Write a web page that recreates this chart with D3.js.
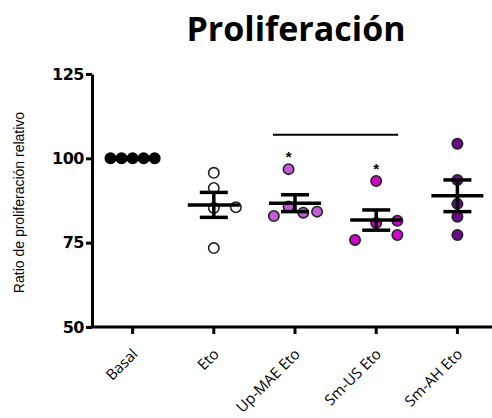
<!DOCTYPE html>
<html>
<head>
<meta charset="utf-8">
<script src="https://cdn.jsdelivr.net/npm/d3@7"></script>
<style>
  body { margin: 0; background: #fff; }
  svg { display: block; }
</style>
</head>
<body>
<div id="chart"></div>
<script>
// Groups and their colours
const groups = ['Basal', 'Eto', 'Up-MAE Eto', 'Sm-US Eto', 'Sm-AH Eto'];
const fills = ['#000000', '#ffffff', '#c25cd9', '#cc05cc', '#6e0a8c'];

// Individual replicate values per group
const basal = [100, 100, 100, 100, 100];
const eto = [95.7, 91.2, 85.3, 85.5, 73.4];
const upMae = [96.8, 85.7, 82.9, 83.9, 84.2];
const smUs = [93.3, 80.8, 81.5, 77.3, 75.8];
const smAh = [104.3, 93.6, 86.5, 82.7, 77.3];

// horizontal spread of points (in marker widths), as in the original scatter
const spread = [
    [-2.4, -1.2, 0, 1.2, 2.4],
    [0, 0, 0, 2.4, 0],
    [-0.7, -0.7, -2.3, 0.9, 2.4],
    [0, 0, 2.3, 2.3, -2.3],
    [0, 0, 0, 0, 0]
];

// mean and SEM
const means = [100, 86.2, 86.7, 81.7, 88.9];
const sems = [0, 3.7, 2.5, 3.0, 4.7];

const yTicks = [50, 75, 100, 125];
const sigBar = {from: 'Up-MAE Eto', to: 'Sm-US Eto', value: 107};
const starred = ['Up-MAE Eto', 'Sm-US Eto'];

const values = [basal, eto, upMae, smUs, smAh];

const W = 492, H = 418;
const margin = {top: 74, right: 0, bottom: 91, left: 92};
const unit = 9.2;

const svg = d3.select('#chart').append('svg')
    .attr('width', W)
    .attr('height', H);

const x = d3.scaleBand()
    .domain(groups)
    .range([margin.left, 498]);

const y = d3.scaleLinear()
    .domain([50, 125])
    .range([H - margin.bottom, margin.top]);

const cx = g => x(g) + x.bandwidth() / 2;

// Title
svg.append('text')
    .attr('x', 296)
    .attr('y', 41)
    .attr('text-anchor', 'middle')
    .style('font-family', '"Open Sans", sans-serif')
    .style('font-weight', 'bold')
    .style('font-size', '34px')
    .text('Proliferación');

// Y axis
const yAxis = svg.append('g')
    .attr('transform', `translate(${margin.left},0)`)
    .call(d3.axisLeft(y).tickValues(yTicks).tickSize(6).tickSizeOuter(0).tickPadding(2));
yAxis.select('.domain').attr('stroke', '#000').attr('stroke-width', 3);
yAxis.selectAll('.tick line').attr('stroke', '#000').attr('stroke-width', 3);
yAxis.selectAll('.tick text')
    .style('font-family', '"DejaVu Sans", sans-serif')
    .style('font-weight', 'bold')
    .style('font-size', '16px')
    .style('letter-spacing', '-0.5px')
    .attr('fill', '#000');

// X axis
const xAxis = svg.append('g')
    .attr('transform', `translate(0,${y(50)})`)
    .call(d3.axisBottom(x).tickSize(7).tickSizeOuter(0).tickFormat(() => ''));
xAxis.select('.domain').attr('stroke', '#000').attr('stroke-width', 3)
    .attr('d', `M${margin.left - 1.5},0H${W}`);
xAxis.selectAll('.tick line').attr('stroke', '#000').attr('stroke-width', 3);
xAxis.selectAll('.tick text').remove();

// category labels at -45 degrees, ending just right of each tick
svg.append('g').selectAll('text')
    .data(groups)
    .join('text')
    .attr('transform', d => `translate(${cx(d) + 6},${y(50) + 28}) rotate(-45)`)
    .attr('text-anchor', 'end')
    .style('font-family', '"Open Sans", sans-serif')
    .style('font-size', '15px')
    .text(d => d);

// Y label
svg.append('text')
    .attr('transform', `translate(24,${(y(50) + y(125)) / 2 + 2}) rotate(-90)`)
    .attr('text-anchor', 'middle')
    .style('font-family', '"Liberation Sans", Arial, sans-serif')
    .style('font-size', '14px')
    .text('Ratio de proliferación relativo');

// Points
const pts = [];
groups.forEach((g, i) => {
    values[i].forEach((v, j) => {
        pts.push({group: g, value: v, off: spread[i][j], fill: fills[i]});
    });
});

svg.append('g').selectAll('circle')
    .data(pts)
    .join('circle')
    .attr('cx', d => cx(d.group) + d.off * unit)
    .attr('cy', d => y(d.value))
    .attr('r', 5.2)
    .attr('fill', d => d.fill)
    .attr('stroke', d => d.fill === '#000000' ? '#000' : '#222')
    .attr('stroke-width', 1.6);

// Mean +/- SEM
const stats = svg.append('g');
groups.forEach((g, i) => {
    if (sems[i] === 0) return;
    const c = cx(g);
    stats.append('line')
        .attr('x1', c - 26).attr('x2', c + 26)
        .attr('y1', y(means[i])).attr('y2', y(means[i]))
        .attr('stroke', '#000').attr('stroke-width', 3.5);
    stats.append('line')
        .attr('x1', c).attr('x2', c)
        .attr('y1', y(means[i] - sems[i])).attr('y2', y(means[i] + sems[i]))
        .attr('stroke', '#000').attr('stroke-width', 3.5);
    [means[i] - sems[i], means[i] + sems[i]].forEach(v => {
        stats.append('line')
            .attr('x1', c - 14).attr('x2', c + 14)
            .attr('y1', y(v)).attr('y2', y(v))
            .attr('stroke', '#000').attr('stroke-width', 3.5);
    });
});

// Significance bar and stars
svg.append('line')
    .attr('x1', cx(sigBar.from) - 22).attr('x2', cx(sigBar.to) + 22)
    .attr('y1', y(sigBar.value)).attr('y2', y(sigBar.value))
    .attr('stroke', '#000').attr('stroke-width', 2);

starred.forEach(g => {
    const i = groups.indexOf(g);
    const top = d3.max(values[i]);
    const j = values[i].indexOf(top);
    svg.append('text')
        .attr('x', cx(g) + spread[i][j] * unit)
        .attr('y', y(top) - 7)
        .attr('text-anchor', 'middle')
        .style('font-family', '"Liberation Sans", Arial, sans-serif')
        .style('font-size', '15px')
        .style('font-weight', 'bold')
        .text('*');
});
</script>
</body>
</html>
